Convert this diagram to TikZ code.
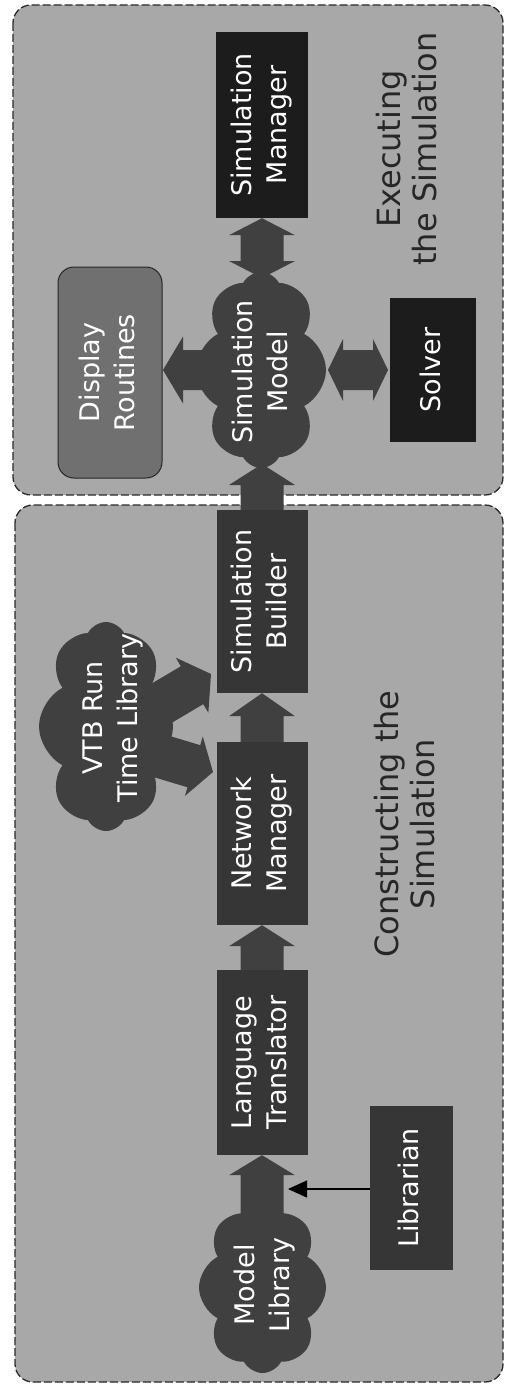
\documentclass[tikz,border=0pt]{standalone}
\usepackage{fontspec}
\setmainfont{DejaVu Sans}
\usetikzlibrary{shapes.symbols,calc,arrows.meta}

\definecolor{panelfill}{HTML}{A8A8A8}
\definecolor{panelline}{HTML}{2A2A2A}
\definecolor{unitfill}{HTML}{363636}
\definecolor{corefill}{HTML}{1C1C1C}
\definecolor{cloudfill}{HTML}{404040}
\definecolor{dispfill}{HTML}{707070}
\definecolor{labelink}{HTML}{262626}

\pgfdeclarelayer{background}
\pgfsetlayers{background,main}

% text set on its side, reading upwards
\newcommand\vtext[1]{\rotatebox{90}{\begin{tabular}{@{}c@{}}#1\end{tabular}}}

% block arrow: from, tip, shaft half width, head half width, head length
\newcommand\blockarrow[5]{%
  \coordinate (ba-h) at ($(#2)!#5!(#1)$);
  \fill[flow] ($(#1)!#3!90:(#2)$) -- ($(ba-h)!#3!90:(#2)$) -- ($(ba-h)!#4!90:(#2)$) -- (#2)
    -- ($(ba-h)!#4!-90:(#2)$) -- ($(ba-h)!#3!-90:(#2)$) -- ($(#1)!#3!-90:(#2)$) -- cycle;}

% double-headed block arrow: tip, tip, shaft half width, head half width, head length
\newcommand\dblarrow[5]{%
  \coordinate (da-a) at ($(#1)!#5!(#2)$);
  \coordinate (da-b) at ($(#2)!#5!(#1)$);
  \fill[flow] (#1) -- ($(da-a)!#4!90:(#2)$) -- ($(da-a)!#3!90:(#2)$) -- ($(da-b)!#3!90:(#2)$)
    -- ($(da-b)!#4!90:(#2)$) -- (#2) -- ($(da-b)!#4!-90:(#2)$) -- ($(da-b)!#3!-90:(#2)$)
    -- ($(da-a)!#3!-90:(#2)$) -- ($(da-a)!#4!-90:(#2)$) -- cycle;}

\begin{document}
\begin{tikzpicture}[x=1pt,y=-1pt,
  box/.style={inner sep=0pt, text=white, font=\fontsize{27}{35}\selectfont},
  unit/.style={box, fill=unitfill},
  core/.style={box, fill=corefill},
  dispbox/.style={box, fill=dispfill, draw=black!85, line width=1pt, rounded corners=16pt},
  cloudy/.style={cloud, cloud puffs=8, cloud puff arc=125, cloud ignores aspect,
    fill=cloudfill, inner sep=0pt},
  cloudtext/.style={inner sep=0pt, text=white, font=\fontsize{27}{35}\selectfont},
  flow/.style={fill=cloudfill},
  panel/.style={draw=panelline, fill=panelfill, line width=1.3pt,
    dash pattern=on 8pt off 3pt, rounded corners=18pt},
  caption/.style={inner sep=0pt, text=labelink, font=\fontsize{32}{36}\selectfont}]

\useasboundingbox (0,0) rectangle (507,1394);

% executing part
\node[core, minimum width=92pt, minimum height=186pt] (sm) at (262,125) {\vtext{Simulation\\Manager}};
\node[core, minimum width=86pt, minimum height=144pt] (solver) at (433,370) {\vtext{Solver}};
\node[dispbox, minimum width=104pt, minimum height=211pt] (disp) at (110,372.5) {\vtext{Display\\Routines}};
\node[cloudy, minimum width=130pt, minimum height=196pt] (smc) at (261,370) {};
\node[cloudtext] (smt) at (263,372) {\vtext{Simulation\\Model}};
\node[caption] (execlbl) at (411,149) {\vtext{Executing\\the Simulation}};

% constructing part
\node[unit, minimum width=91pt, minimum height=183pt] (sb) at (262,601.5) {\vtext{Simulation\\Builder}};
\node[unit, minimum width=91pt, minimum height=183pt] (nm) at (262,833.5) {\vtext{Network\\Manager}};
\node[unit, minimum width=91pt, minimum height=185pt] (lt) at (262,1062.5) {\vtext{Language\\Translator}};
\node[unit, minimum width=83pt, minimum height=164pt] (lib) at (411.5,1188) {\vtext{Librarian}};
\node[cloudy, minimum width=127pt, minimum height=171pt] (mlc) at (262.5,1287.5) {};
\node[cloudtext] (mlt) at (265,1285) {\vtext{Model\\Library}};
\node[cloudy, minimum width=134pt, minimum height=209pt] (vtb) at (106,726.5) {};
\node[cloudtext] (vtbt) at (113,718) {\vtext{VTB Run\\Time Library}};
\node[caption] (conslbl) at (409,824) {\vtext{Constructing the\\Simulation}};

% free ends of the block arrows
\coordinate (smtop) at (262,278);
\coordinate (dispin) at (163,370);
\coordinate (solvL) at (328,370);
\coordinate (solvR) at (388,370);
\coordinate (sbtip) at (262,464);
\coordinate (mlstem) at (262,1230);
\coordinate (vtbA) at (140,716);
\coordinate (vtbAtip) at (211,674);
\coordinate (vtbB) at (140,750);
\coordinate (vtbBtip) at (213,772);
\coordinate (libtip) at (288,1189);

\begin{pgfonlayer}{background}
  \draw[panel] (13,5) rectangle (503,495);
  \draw[panel] (15,505) rectangle (503,1382);
  \dblarrow{sm.south}{smtop}{21.5pt}{33pt}{17pt}
  \blockarrow{smc.center}{dispin}{20pt}{33.5pt}{20pt}
  \dblarrow{solvL}{solvR}{20pt}{31pt}{15pt}
  \blockarrow{sb.north}{sbtip}{21.5pt}{33pt}{21pt}
  \blockarrow{nm.north}{sb.south}{21.5pt}{33pt}{23pt}
  \blockarrow{lt.north}{nm.south}{21.5pt}{33pt}{21pt}
  \blockarrow{mlstem}{lt.south}{21.5pt}{33pt}{20pt}
  \blockarrow{vtbA}{vtbAtip}{22pt}{32pt}{22pt}
  \blockarrow{vtbB}{vtbBtip}{22pt}{31pt}{20pt}
\end{pgfonlayer}

\draw[line width=1.2pt, -{Triangle[length=19pt,width=17pt]}] (lib.west |- libtip) -- (libtip);

\end{tikzpicture}
\end{document}
